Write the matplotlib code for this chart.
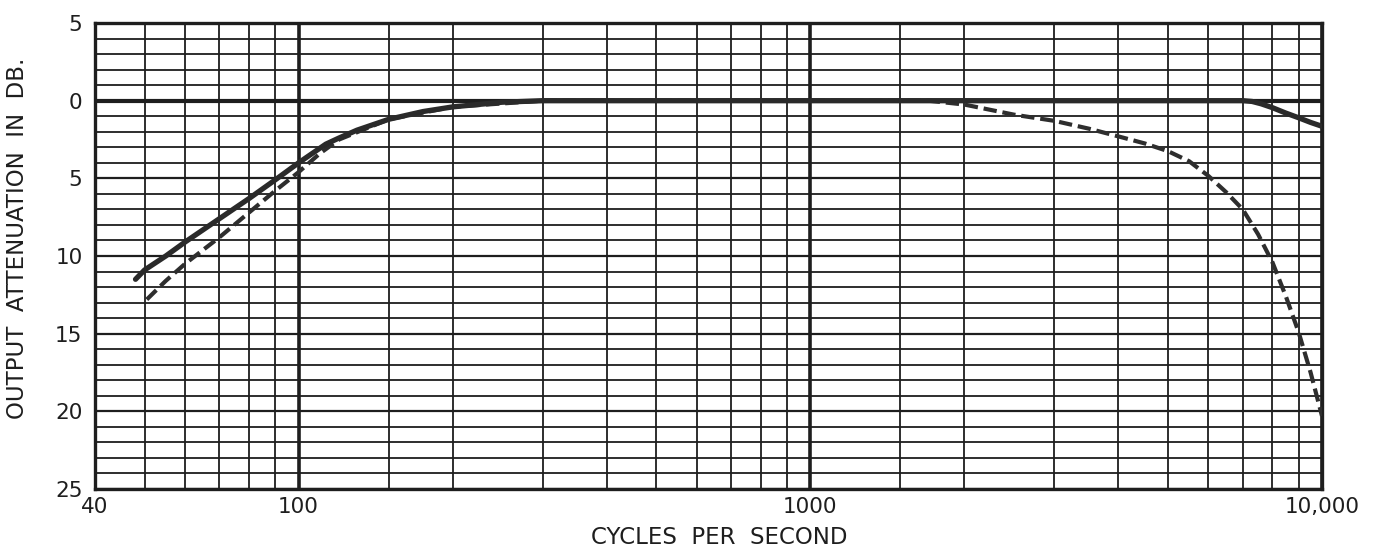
import matplotlib
matplotlib.use("Agg")
import matplotlib.pyplot as plt
from matplotlib.ticker import FixedLocator, NullFormatter

# Frequency response (attenuation in dB, positive = down)
solid_freq = [48, 50, 55, 60, 70, 80, 90, 100, 113, 120, 130, 150, 175, 200, 250, 300,
              1000, 5000, 7000, 7300, 7600, 8000, 8500, 9000, 9500, 10000]
solid_db = [11.5, 10.9, 10.0, 9.1, 7.6, 6.3, 5.1, 4.0, 2.8, 2.4, 1.9, 1.2, 0.7, 0.4, 0.1, 0.0,
            0.0, 0.0, 0.0, 0.05, 0.2, 0.45, 0.8, 1.1, 1.4, 1.65]

dash_freq = [50.5, 55, 60, 70, 80, 90, 100, 110, 120, 150, 200, 300, 1000, 1700, 2000,
             2500, 3000, 3500, 4000, 4500, 5000, 5500, 6000, 6500, 7000, 7500, 8000,
             8500, 9000, 9500, 10000]
dash_db = [12.8, 11.6, 10.5, 8.8, 7.2, 5.8, 4.6, 3.4, 2.5, 1.2, 0.4, 0.0, 0.0, 0.0, 0.25,
           0.9, 1.3, 1.8, 2.3, 2.75, 3.25, 3.9, 4.85, 5.9, 7.0, 8.6, 10.4,
           12.6, 14.9, 17.5, 20.3]

x_major = [40, 100, 1000, 10000]
x_major_labels = ["40", "100", "1000", "10,000"]
x_minor = [50, 60, 70, 80, 90, 150, 200, 300, 400, 500, 600, 700, 800, 900,
           1500, 2000, 3000, 4000, 5000, 6000, 7000, 8000, 9000]
y_major = [-5, 0, 5, 10, 15, 20, 25]
y_major_labels = ["5", "0", "5", "10", "15", "20", "25"]
y_minor = [v for v in range(-5, 26)]

ink = "#1e1e1e"

fig = plt.figure(figsize=(13.79, 5.48), dpi=100)
ax = fig.add_axes([95 / 1379, 1 - 489 / 548, (1322 - 95) / 1379, (489 - 23) / 548])

ax.set_xscale("log")
ax.set_xlim(40, 10000)
ax.set_ylim(25, -5)

ax.xaxis.set_major_locator(FixedLocator(x_major))
ax.xaxis.set_minor_locator(FixedLocator(x_minor))
ax.xaxis.set_minor_formatter(NullFormatter())
ax.set_xticklabels(x_major_labels)
ax.yaxis.set_major_locator(FixedLocator(y_major))
ax.yaxis.set_minor_locator(FixedLocator(y_minor))
ax.set_yticklabels(y_major_labels)

ax.grid(which="minor", axis="both", color=ink, linewidth=1.3)
ax.grid(which="major", axis="x", color=ink, linewidth=2.6)
ax.grid(which="major", axis="y", color=ink, linewidth=1.6)
ax.axhline(0, color=ink, linewidth=3.0, zorder=1.5)

ax.tick_params(which="both", length=0)
ax.tick_params(axis="y", pad=9, labelsize=15.5, colors=ink)
ax.tick_params(axis="x", pad=6, labelsize=15.5, colors=ink)
for s in ax.spines.values():
    s.set_linewidth(2.4)
    s.set_color(ink)

ax.plot(dash_freq, dash_db, color="#2e2e2e", linewidth=3.0, dashes=(3.2, 1.4),
        solid_capstyle="butt", zorder=3)
ax.plot(solid_freq, solid_db, color="#2a2a2a", linewidth=3.8, zorder=4,
        solid_capstyle="round")

fig.text(719 / 1379, 1 - 537 / 548, "CYCLES  PER  SECOND", ha="center", va="center",
         fontsize=16.5, color=ink)
fig.text(18 / 1379, 1 - 238 / 548, "OUTPUT  ATTENUATION  IN  DB.", ha="center",
         va="center", rotation=90, fontsize=16.5, color=ink)

fig.savefig("out.png", dpi=100, facecolor="white")
